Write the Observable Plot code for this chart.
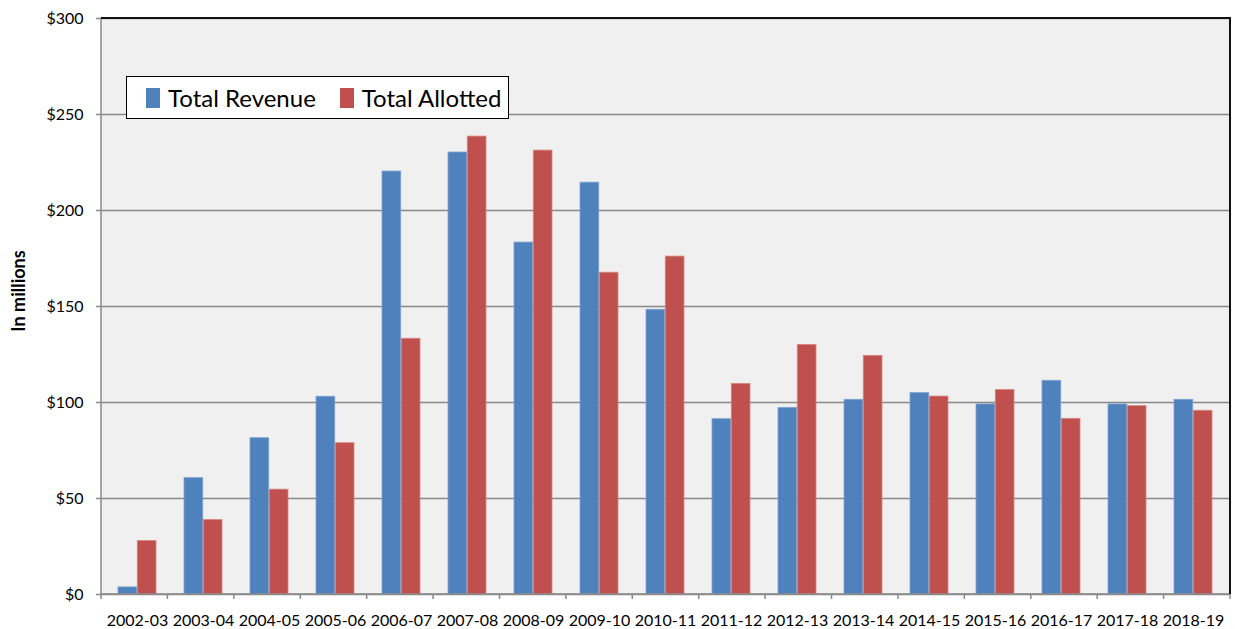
<!DOCTYPE html>
<html>
<head>
<meta charset="utf-8">
<script src="https://cdn.jsdelivr.net/npm/d3@7"></script>
<script src="https://cdn.jsdelivr.net/npm/@observablehq/plot@0.6"></script>
<style>
  html, body { margin: 0; padding: 0; background: #fff; }
  #wrap { position: relative; width: 1235px; height: 629px; font-family: Lato, "Open Sans", sans-serif; }
  #legend { position: absolute; left: 126px; top: 76px; width: 381px; height: 41px; border: 1.5px solid #000; background: #fff;
            display: flex; align-items: center; font-size: 24px; color: #000; box-sizing: content-box; }
  #legend .sw { display: inline-block; width: 14px; height: 20px; margin-right: 8px; }
  #legend .item { display: flex; align-items: center; }
</style>
</head>
<body>
<div id="wrap"></div>
<script>
const years = ["2002-03","2003-04","2004-05","2005-06","2006-07","2007-08","2008-09","2009-10","2010-11","2011-12","2012-13","2013-14","2014-15","2015-16","2016-17","2017-18","2018-19"];
const totalRevenue = [3.7, 60.6, 81.4, 103, 220.3, 230.2, 183.3, 214.5, 148.3, 91.3, 97.2, 101.4, 104.9, 99, 111.3, 99, 101.4];
const totalAllotted = [27.9, 38.8, 54.6, 78.8, 133.2, 238.5, 231.2, 167.6, 176, 109.7, 130, 124.3, 103.1, 106.5, 91.5, 98.1, 95.7];
const seriesNames = ["Total Revenue", "Total Allotted"];
const seriesColors = ["#4f81bd", "#c0504d"];
const yTicks = [0, 50, 100, 150, 200, 250, 300];
const yLabel = "In millions";

const W = 1235, H = 629, ML = 101, MR = 5, MT = 18, MB = 35;
const padInner = 0.42, padOuter = 0.21;
const step = (W - ML - MR) / (years.length - padInner + 2 * padOuter);
const half = step * (1 - padInner) / 2;

const rev = years.map((y, i) => ({year: y, value: totalRevenue[i]}));
const all = years.map((y, i) => ({year: y, value: totalAllotted[i]}));

const frameLines = (index, scales, values, dims) => {
  const g = d3.create("svg:g");
  const x0 = dims.marginLeft, x1 = dims.width - dims.marginRight;
  const y0 = dims.marginTop, y1 = dims.height - dims.marginBottom;
  const n = years.length;
  for (let i = 0; i <= n; i++) {
    const xb = x0 + i * (x1 - x0) / n;
    g.append("line").attr("x1", xb).attr("x2", xb).attr("y1", y1).attr("y2", y1 + 5)
      .attr("stroke", "#888").attr("stroke-width", 1.5);
  }
  g.append("line").attr("x1", x0).attr("x2", x0).attr("y1", y0).attr("y2", y1 + 1)
    .attr("stroke", "#888").attr("stroke-width", 1.5);
  g.append("line").attr("x1", x0).attr("x2", x1).attr("y1", y1).attr("y2", y1)
    .attr("stroke", "#888").attr("stroke-width", 1.5);
  g.append("path").attr("d", `M${x0},${y0}H${x1}V${y1}`)
    .attr("fill", "none").attr("stroke", "#111").attr("stroke-width", 2);
  return g.node();
};

const chart = Plot.plot({
  width: W, height: H,
  marginLeft: ML, marginRight: MR, marginTop: MT, marginBottom: MB,
  style: {fontFamily: "Lato, 'Open Sans', sans-serif", fontSize: "16px", color: "#000", background: "#fff"},
  x: {domain: years, paddingInner: padInner, paddingOuter: padOuter, label: null},
  y: {domain: [0, 300], label: null},
  marks: [
    Plot.frame({fill: "#f0f0f0", stroke: "none"}),
    Plot.gridY(yTicks, {stroke: "#888", strokeOpacity: 1, strokeWidth: 1.5}),
    Plot.barY(rev, {x: "year", y: "value", fill: seriesColors[0], insetRight: half, stroke: "#7fa3d0", strokeWidth: 0.8}),
    Plot.barY(all, {x: "year", y: "value", fill: seriesColors[1], insetLeft: half, stroke: "#d88583", strokeWidth: 0.8}),
    Plot.axisY({ticks: yTicks, tickFormat: d => "$" + d, tickSize: 5, tickPadding: 13, stroke: "#888", strokeWidth: 1.5, fontSize: 16, label: null}),
    Plot.axisX({tickSize: 0, tickPadding: 20, fontSize: 16, label: null}),
    frameLines
  ]
});

const wrap = document.getElementById("wrap");
wrap.appendChild(chart);
const legend = document.createElement("div");
legend.id = "legend";
legend.innerHTML = seriesNames.map((s, i) =>
  `<span class="item" style="margin-left:${i === 0 ? 19 : 24}px"><span class="sw" style="background:${seriesColors[i]}"></span>${s}</span>`).join("");
wrap.appendChild(legend);
const ylab = document.createElement("div");
ylab.textContent = yLabel;
Object.assign(ylab.style, {position: "absolute", left: "18px", top: "291px", transform: "translate(-50%,-50%) rotate(-90deg)",
  whiteSpace: "nowrap", fontWeight: "bold", fontSize: "18px", color: "#000", lineHeight: "1"});
wrap.appendChild(ylab);
</script>
</body>
</html>
